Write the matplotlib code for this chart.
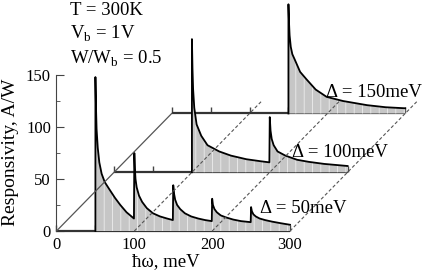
import matplotlib
matplotlib.use('Agg')
import matplotlib.pyplot as plt
from matplotlib.ticker import MultipleLocator
from matplotlib.transforms import Affine2D

plt.rcParams['font.family'] = ['Liberation Serif', 'DejaVu Serif']
plt.rcParams['mathtext.fontset'] = 'custom'
plt.rcParams['mathtext.rm'] = 'Liberation Serif'
plt.rcParams['hatch.linewidth'] = 0.5

# photon energy (meV) and responsivity (A/W)
e50 = [50, 50, 50.7, 51.5, 53, 55, 58, 62, 68, 75, 82, 90, 99.5,
       100, 100.7, 101.5, 103, 106, 110, 116, 124, 133, 142, 149.5,
       150, 151, 152.5, 155, 159, 165, 173, 182, 191, 199.5,
       200, 201, 203, 206, 211, 218, 227, 237, 249.5,
       250, 251, 253, 256, 261, 268, 277, 288, 300]
r50 = [0, 148, 120, 98, 80, 66, 55, 47, 40, 32, 25, 18, 12,
       75, 60, 50, 42, 34, 28, 22, 17, 14, 12, 10.5,
       44, 36, 30, 25, 21, 17, 14, 12, 10.5, 9.5,
       31, 25, 21, 18, 15, 13, 11, 9.5, 8.5,
       23, 19, 16, 14, 12, 10.5, 9, 7.5, 6]

e100 = [100, 100, 100.7, 101.5, 103, 106, 112, 120, 135, 150, 170, 189, 199.5,
        200, 201, 202.5, 205, 210, 220, 235, 250, 270, 300]
r100 = [0, 128, 100, 80, 62, 46, 35, 26, 20, 16, 12.5, 10.5, 9.5,
        53, 40, 32, 26, 20, 16, 12, 10, 8, 6]

e150 = [150, 150, 150.7, 151.5, 153, 155, 158, 165, 173, 185, 199, 220, 251, 275, 300]
r150 = [0, 105, 88, 75, 64, 57, 52, 40, 33, 23, 16, 12, 8, 6, 5]

axis_ticks = [0, 50, 100, 150, 200, 250, 300]
guide_E = [100, 200, 300]

W, H = 427, 273
fig = plt.figure(figsize=(W / 100, H / 100), dpi=100)
ax = fig.add_axes([56.5 / W, 1 - 231 / H, 233.5 / W, 156 / H])
ax.set_xlim(0, 300)
ax.set_ylim(0, 150)
ax.patch.set_alpha(0)

# shift of the middle and back panels, in front-panel data units
shift_mid = (74, 56.5)
shift_back = (148, 113)


def panel(E, R, shift, z):
    tr = Affine2D().translate(*shift) + ax.transData
    ax.vlines(axis_ticks, 0, 6, colors='#444444', lw=1, transform=tr,
              zorder=z, clip_on=False)
    ax.plot([0, 300], [0, 0], color='#333333', lw=1.6, transform=tr,
            zorder=z + 0.1, clip_on=False, solid_capstyle='butt')
    ax.fill_between(E, R, 0, facecolor='#c6c6c6', edgecolor='#f4f4f4',
                    hatch='||', lw=0, transform=tr, zorder=z + 0.2,
                    clip_on=False)
    ax.plot(E, R, color='black', lw=1.3, transform=tr, zorder=z + 0.3,
            clip_on=False)


panel(e150, r150, shift_back, 1)
panel(e100, r100, shift_mid, 2)
panel(e50, r50, (0, 0), 3)

# perspective guide lines
ax.plot([0, shift_back[0]], [0, shift_back[1]], color='#555555', lw=0.9,
        zorder=5, clip_on=False)
for e in guide_E:
    ax.plot([e, e + shift_back[0] * 1.1], [0, shift_back[1] * 1.1],
            color='#555555', lw=0.8, dashes=(3, 2), zorder=5, clip_on=False)

for s in ['top', 'right', 'bottom']:
    ax.spines[s].set_visible(False)
ax.spines['left'].set_color('#444444')
ax.set_xticks([0, 100, 200, 300])
ax.set_yticks([0, 50, 100, 150])
ax.yaxis.set_minor_locator(MultipleLocator(25))
ax.tick_params(axis='x', length=0, pad=4, labelsize=12)
ax.tick_params(axis='y', which='major', direction='in', length=6,
               color='#444444', pad=4, labelsize=12)
ax.tick_params(axis='y', which='minor', direction='in', length=3,
               color='#444444')


def label(x, y, s, **kw):
    fig.text(x / W, 1 - y / H, s, fontsize=13.5, va='baseline', **kw)


label(70, 15, 'T = 300K')
label(70, 39, r'V$_\mathrm{b}$ = 1V')
label(70, 64, r'W/W$_\mathrm{b}$ = 0.5')
label(326, 97, 'Δ = 150meV')
label(292, 157, 'Δ = 100meV')
label(260, 213, 'Δ = 50meV')

fig.text(11 / W, 1 - 152 / H, 'Responsivity, A/W', rotation=90,
         ha='center', va='center', fontsize=14)
fig.text(166 / W, 1 - 262 / H, 'ħω, meV', ha='center', va='center',
         fontsize=13.5)

fig.savefig('out.png', dpi=100)
